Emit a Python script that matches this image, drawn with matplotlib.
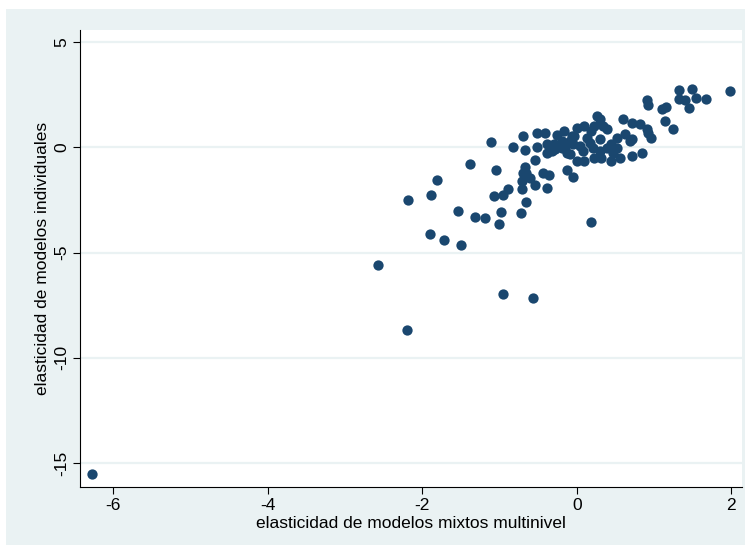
import matplotlib
matplotlib.use("Agg")
import matplotlib.pyplot as plt
from matplotlib.patches import Rectangle

plt.rcParams['font.family'] = ['Liberation Sans', 'DejaVu Sans']
plt.rcParams['axes.unicode_minus'] = False

# elasticidad de modelos mixtos multinivel (x) vs modelos individuales (y)
mixtos = [
    -6.27, -2.57, -2.20, -0.96, -0.56, 0.19, -2.19, -1.88, -1.81, -1.54,
    -1.38, -1.32, -1.19, -1.90, -1.72, -1.50, -1.11, -1.05, -1.07, -0.96,
    -0.89, -0.98, -1.00, -0.72, -0.65, -0.71, -0.71, -0.67, -0.70, -0.65,
    -0.61, -0.54, -0.39, -0.44, -0.36, -0.54, -0.83, -0.67, -0.69, -0.52,
    -0.41, -0.26, -0.52, -0.39, -0.35, -0.30, -0.38, -0.16, -0.06, -0.09,
    -0.32, -0.28, -0.19, -0.12, -0.09, -0.19, -0.13, 0.01, -0.03, -0.05,
    0.04, 0.10, 0.19, 0.13, 0.17, 0.08, 0.26, 0.30, 0.23, 0.34,
    0.39, 0.30, 0.21, 0.30, 0.39, 0.45, 0.52, 0.62, 0.69, 0.60,
    0.72, 0.82, 0.52, 0.47, 0.45, 0.56, 0.71, 0.01, 0.10, -0.13,
    -0.05, 0.23, 0.32, 0.91, 0.92, 0.96, 0.91, 0.92, 1.10, 1.16,
    1.14, 1.25, 1.33, 1.33, 1.40, 1.45, 1.49, 1.54, 1.68, 1.98,
    0.85, 0.71,
]
individuales = [
    -15.53, -5.61, -8.69, -6.98, -7.17, -3.56, -2.52, -2.28, -1.57, -3.04,
    -0.81, -3.33, -3.37, -4.13, -4.42, -4.66, 0.24, -1.09, -2.33, -2.28,
    -2.00, -3.09, -3.66, -3.14, -2.61, -2.00, -1.62, -0.95, -1.24, -1.24,
    -1.47, -1.81, -1.95, -1.24, -1.33, -0.62, 0.00, -0.14, 0.52, 0.67,
    0.67, 0.57, 0.00, 0.14, -0.05, 0.14, -0.29, 0.76, 0.52, 0.29,
    -0.19, -0.10, -0.05, -0.29, -0.33, 0.29, 0.14, 0.90, 0.52, 0.14,
    0.05, 1.00, 0.76, 0.43, 0.19, -0.19, 1.47, 1.33, 1.00, 1.00,
    0.86, 0.38, -0.05, -0.19, -0.05, 0.14, 0.43, 0.62, 0.29, 1.33,
    1.14, 1.09, -0.05, -0.29, -0.67, -0.52, -0.43, -0.67, -0.67, -1.09,
    -1.43, -0.52, -0.52, 0.86, 0.67, 0.43, 2.23, 2.00, 1.81, 1.90,
    1.24, 0.86, 2.71, 2.28, 2.23, 1.85, 2.76, 2.33, 2.28, 2.66,
    -0.29, 0.38,
]

x_ticks = [-6, -4, -2, 0, 2]
y_ticks = [5, 0, -5, -10, -15]

fig = plt.figure(figsize=(7.5, 5.51), dpi=100, facecolor='white')
# Stata-like graph region, kept behind the axes
fig.patches.append(Rectangle((6 / 750, 6 / 551), 739 / 750, 536 / 551,
                             transform=fig.transFigure, facecolor='#eaf2f3',
                             edgecolor='none', zorder=-10))

ax = fig.add_axes([80 / 750, 64 / 551, 662 / 750, 457 / 551])
ax.set_zorder(5)
ax.set_facecolor('white')

for yt in y_ticks:
    ax.axhline(yt, color='#eaf2f3', linewidth=1.6, zorder=1)

ax.scatter(mixtos, individuales, s=55, color='#1a476f', linewidths=0, zorder=3)

ax.set_xlim(-6.43, 2.14)
ax.set_ylim(-16.14, 5.57)
ax.set_xticks(x_ticks)
ax.set_yticks(y_ticks)
ax.set_yticklabels([str(v) for v in y_ticks], rotation=90, va='center')
ax.tick_params(axis='both', direction='out', length=5, width=0.8,
               labelsize=12.5, colors='black')
ax.tick_params(axis='y', pad=3)
ax.tick_params(axis='x', pad=3)

for side in ['top', 'right']:
    ax.spines[side].set_visible(False)
for side in ['left', 'bottom']:
    ax.spines[side].set_linewidth(0.8)
    ax.spines[side].set_color('black')

ax.set_xlabel('elasticidad de modelos mixtos multinivel', fontsize=12.5, labelpad=2)
ax.set_ylabel('elasticidad de modelos individuales', fontsize=12.5, labelpad=3)

fig.savefig('out.png', dpi=100, facecolor='white')
